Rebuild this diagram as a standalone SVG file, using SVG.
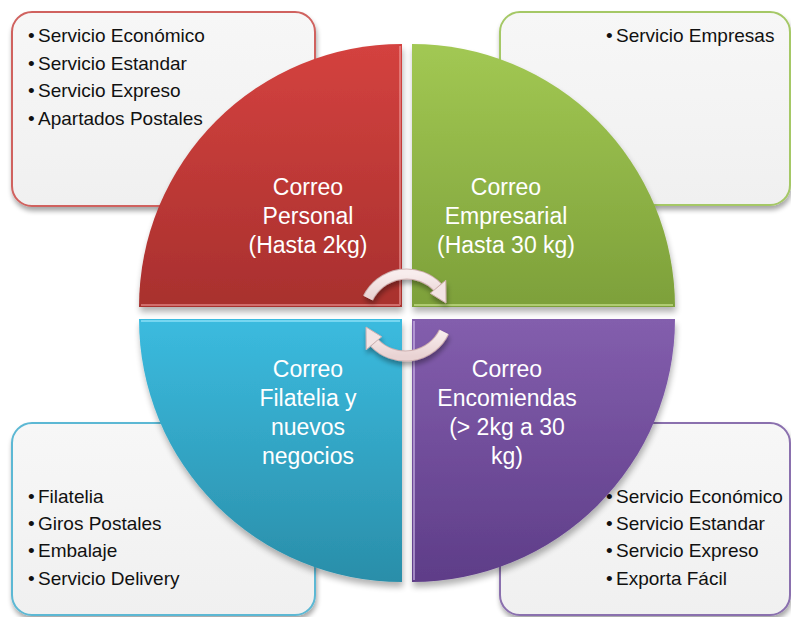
<svg xmlns="http://www.w3.org/2000/svg" width="791" height="617" viewBox="0 0 791 617">
<defs>
<style>
.box{stroke-width:2;filter:url(#sh)}
.lst{font-family:"Liberation Sans",Arial,sans-serif;font-size:19px;fill:#111}
.lbl{font-family:"Liberation Sans",Arial,sans-serif;font-size:23px;fill:#fff;text-anchor:middle}
.q{filter:url(#sh2)}
.edge{fill:none;stroke-width:2;stroke-opacity:0.55}
</style>
<filter id="sh" x="-10%" y="-10%" width="125%" height="130%">
<feGaussianBlur in="SourceAlpha" stdDeviation="2.5"/>
<feOffset dx="1" dy="4" result="b"/>
<feComponentTransfer><feFuncA type="linear" slope="0.35"/></feComponentTransfer>
<feMerge><feMergeNode/><feMergeNode in="SourceGraphic"/></feMerge>
</filter>
<filter id="sh2" x="-10%" y="-10%" width="125%" height="130%">
<feGaussianBlur in="SourceAlpha" stdDeviation="3"/>
<feOffset dx="1" dy="5" result="b"/>
<feComponentTransfer><feFuncA type="linear" slope="0.3"/></feComponentTransfer>
<feMerge><feMergeNode/><feMergeNode in="SourceGraphic"/></feMerge>
</filter>
<linearGradient id="gbox" x1="0" y1="0" x2="0" y2="1"><stop offset="0" stop-color="#f7f7f7"/><stop offset="1" stop-color="#f0f0f0"/></linearGradient>
<linearGradient id="gr" x1="0" y1="0" x2="0" y2="1"><stop offset="0" stop-color="#d4423f"/><stop offset="1" stop-color="#a8302e"/></linearGradient>
<linearGradient id="gg" x1="0" y1="0" x2="0" y2="1"><stop offset="0" stop-color="#a2c853"/><stop offset="1" stop-color="#7da03a"/></linearGradient>
<linearGradient id="gb" x1="0" y1="0" x2="0" y2="1"><stop offset="0" stop-color="#3bbbdf"/><stop offset="1" stop-color="#2a8ea9"/></linearGradient>
<linearGradient id="gp" x1="0" y1="0" x2="0" y2="1"><stop offset="0" stop-color="#835ead"/><stop offset="1" stop-color="#5e3d88"/></linearGradient>
<linearGradient id="ga" x1="0" y1="0" x2="0" y2="1"><stop offset="0" stop-color="#f8eded"/><stop offset="1" stop-color="#e9d3d3"/></linearGradient>
</defs>
<rect width="791" height="617" fill="#ffffff"/>

<g id="box-personal">
<rect class="box" x="12" y="12" width="303" height="194" rx="20" fill="url(#gbox)" stroke="#d0625f"/>
<text class="lst"><tspan x="28" y="42">•</tspan><tspan x="38" y="42">Servicio Económico</tspan><tspan x="28" y="70">•</tspan><tspan x="38" y="70">Servicio Estandar</tspan><tspan x="28" y="97">•</tspan><tspan x="38" y="97">Servicio Expreso</tspan><tspan x="28" y="125">•</tspan><tspan x="38" y="125">Apartados Postales</tspan></text>
</g>
<g id="box-empresarial">
<rect class="box" x="500" y="12" width="290" height="193" rx="20" fill="url(#gbox)" stroke="#a5c866"/>
<text class="lst"><tspan x="606" y="42">•</tspan><tspan x="616" y="42">Servicio Empresas</tspan></text>
</g>
<g id="box-filatelia">
<rect class="box" x="12" y="423" width="303" height="192" rx="20" fill="url(#gbox)" stroke="#5cb8d4"/>
<text class="lst"><tspan x="28" y="503">•</tspan><tspan x="38" y="503">Filatelia</tspan><tspan x="28" y="530">•</tspan><tspan x="38" y="530">Giros Postales</tspan><tspan x="28" y="557">•</tspan><tspan x="38" y="557">Embalaje</tspan><tspan x="28" y="585">•</tspan><tspan x="38" y="585">Servicio Delivery</tspan></text>
</g>
<g id="box-encomiendas">
<rect class="box" x="500" y="423" width="290" height="192" rx="20" fill="url(#gbox)" stroke="#8a6fae"/>
<text class="lst"><tspan x="606" y="503">•</tspan><tspan x="616" y="503">Servicio Económico</tspan><tspan x="606" y="530">•</tspan><tspan x="616" y="530">Servicio Estandar</tspan><tspan x="606" y="557">•</tspan><tspan x="616" y="557">Servicio Expreso</tspan><tspan x="606" y="585">•</tspan><tspan x="616" y="585">Exporta Fácil</tspan></text>
</g>

<g id="q-personal">
<path class="q" d="M402,307 L139,307 A263,263 0 0 1 402,44 Z" fill="url(#gr)"/>
<path class="edge" d="M400,305 L141,305 M400,46 L400,305" stroke="#f2a0a0"/>
<text class="lbl"><tspan x="308" y="195">Correo</tspan><tspan x="308" y="224">Personal</tspan><tspan x="308" y="253">(Hasta 2kg)</tspan></text>
</g>
<g id="q-empresarial">
<path class="q" d="M412,307 L412,44 A263,263 0 0 1 675,307 Z" fill="url(#gg)"/>
<path class="edge" d="M414,305 L673,305" stroke="#d8f0a0"/>
<text class="lbl"><tspan x="506" y="195">Correo</tspan><tspan x="506" y="224">Empresarial</tspan><tspan x="506" y="253">(Hasta 30 kg)</tspan></text>
</g>
<g id="q-filatelia">
<path class="q" d="M402,319 L402,582 A263,263 0 0 1 139,319 Z" fill="url(#gb)"/>
<path class="edge" d="M141,321 L400,321" stroke="#a8ecff"/>
<text class="lbl"><tspan x="308" y="377">Correo</tspan><tspan x="308" y="406">Filatelia y</tspan><tspan x="308" y="435">nuevos</tspan><tspan x="308" y="464">negocios</tspan></text>
</g>
<g id="q-encomiendas">
<path class="q" d="M412,319 L675,319 A263,263 0 0 1 412,582 Z" fill="url(#gp)"/>
<path class="edge" d="M414,321 L414,580" stroke="#d9c4f2"/>
<text class="lbl"><tspan x="507" y="377">Correo</tspan><tspan x="507" y="406">Encomiendas</tspan><tspan x="507" y="435">(&gt; 2kg a 30</tspan><tspan x="507" y="464">kg)</tspan></text>
</g>

<g id="connectors" filter="url(#sh)">
<path d="M368,298 A43,43 0 0 1 437.5,287" fill="none" stroke="#cfb0b0" stroke-width="11"/>
<path d="M368,298 A43,43 0 0 1 437.5,287" fill="none" stroke="url(#ga)" stroke-width="9"/>
<polygon points="430.3,293.3 445.8,280.3 446,303" fill="#f3e4e4" stroke="#cfb0b0" stroke-width="1"/>
<path d="M444,332 A43,43 0 0 1 374.5,343" fill="none" stroke="#cfb0b0" stroke-width="11"/>
<path d="M444,332 A43,43 0 0 1 374.5,343" fill="none" stroke="url(#ga)" stroke-width="9"/>
<polygon points="381.7,336.7 366.2,349.7 366,327" fill="#f3e4e4" stroke="#cfb0b0" stroke-width="1"/>
</g>
</svg>
